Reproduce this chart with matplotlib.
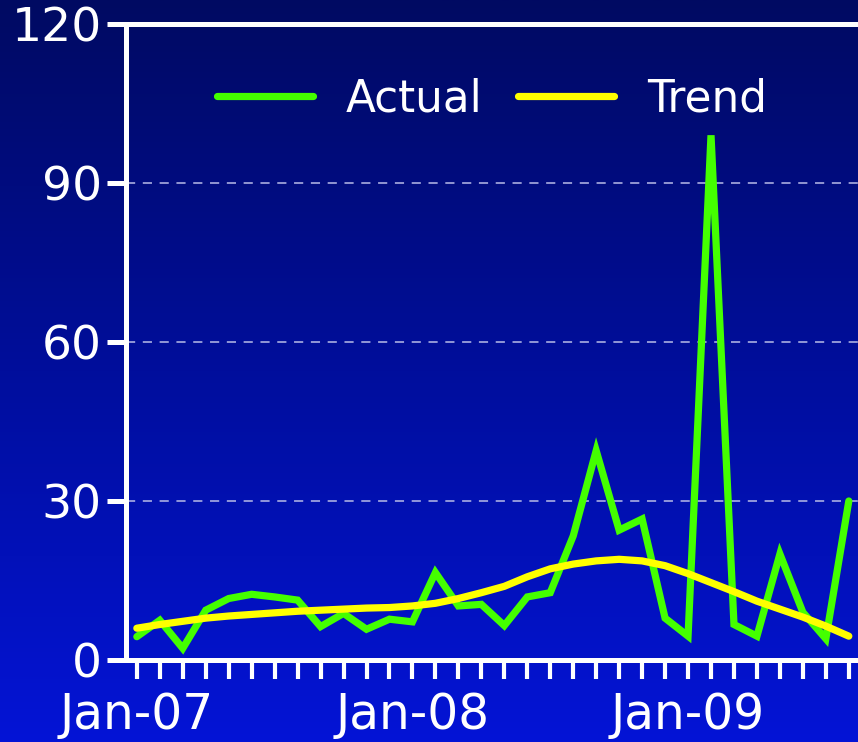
import numpy as np
import matplotlib
matplotlib.use('Agg')
from matplotlib import pyplot as plt
from matplotlib.colors import LinearSegmentedColormap

# monthly series, Jan-07 .. Aug-09
months = ['Jan-07', 'Feb-07', 'Mar-07', 'Apr-07', 'May-07', 'Jun-07', 'Jul-07', 'Aug-07',
          'Sep-07', 'Oct-07', 'Nov-07', 'Dec-07', 'Jan-08', 'Feb-08', 'Mar-08', 'Apr-08',
          'May-08', 'Jun-08', 'Jul-08', 'Aug-08', 'Sep-08', 'Oct-08', 'Nov-08', 'Dec-08',
          'Jan-09', 'Feb-09', 'Mar-09', 'Apr-09', 'May-09', 'Jun-09', 'Jul-09', 'Aug-09']
actual = [4.4, 7.5, 2.2, 9.4, 11.6, 12.4, 11.9, 11.3, 6.3, 8.8, 5.8, 7.7, 7.2, 16.5, 10.2, 10.5,
          6.5, 11.9, 12.7, 23.4, 39.5, 24.5, 26.6, 7.9, 4.5, 99.0, 6.7, 4.5, 20.0, 9.0, 4.0, 30.0]
trend = [6.0, 6.7, 7.3, 7.9, 8.3, 8.6, 8.9, 9.2, 9.4, 9.6, 9.8, 9.9, 10.2, 10.7, 11.6, 12.7,
         13.9, 15.7, 17.2, 18.1, 18.7, 19.0, 18.7, 17.8, 16.3, 14.6, 12.9, 11.1, 9.6, 8.1, 6.4, 4.5]
yticks = [0, 30, 60, 90, 120]

plt.rcParams['font.family'] = 'DejaVu Sans'

fig = plt.figure(figsize=(8.58, 7.42), dpi=100)

# vertical navy-to-blue gradient behind everything
bg = fig.add_axes([0, 0, 1, 1], zorder=-10)
cmap = LinearSegmentedColormap.from_list('bg', ['#000A62', '#000E9C', '#0414D6'])
grad = np.linspace(0, 1, 256).reshape(-1, 1)
bg.imshow(grad, aspect='auto', cmap=cmap, extent=[0, 1, 0, 1], origin='upper')
bg.axis('off')

ax = fig.add_axes([0.1469, 0.1105, 0.8531, 0.8572])
ax.set_facecolor('none')

x = np.arange(len(months))
ax.plot(x, actual, color='#44FF00', lw=5.2, solid_capstyle='round',
        solid_joinstyle='miter', label='Actual', zorder=3)
ax.plot(x, trend, color='#FFFF00', lw=5.2, solid_capstyle='round', label='Trend', zorder=4)

ax.set_xlim(-0.47, 31.4)
ax.set_ylim(0, 120)
ax.set_yticks(yticks)
ax.set_xticks(x)
ax.set_xticklabels([m if m.startswith('Jan') else '' for m in months])

for v in yticks[1:-1]:
    ax.axhline(v, color='#B8BCE8', lw=1.1, dashes=(6, 5), zorder=1)

for side in ['left', 'bottom', 'top']:
    ax.spines[side].set_color('white')
    ax.spines[side].set_linewidth(3.6)
ax.spines['right'].set_visible(False)

ax.tick_params(axis='y', colors='white', labelsize=34, length=13.5, width=3.6, pad=4)
ax.tick_params(axis='x', colors='white', labelsize=35, length=14, width=3.0,
               direction='out', pad=8)

leg = ax.legend(loc='upper center', ncol=2, frameon=False, fontsize=31.5,
                handlelength=2.2, columnspacing=0.8, handletextpad=0.75,
                bbox_to_anchor=(0.5, 0.978))
for t in leg.get_texts():
    t.set_color('white')

fig.savefig('out.png', dpi=100)
